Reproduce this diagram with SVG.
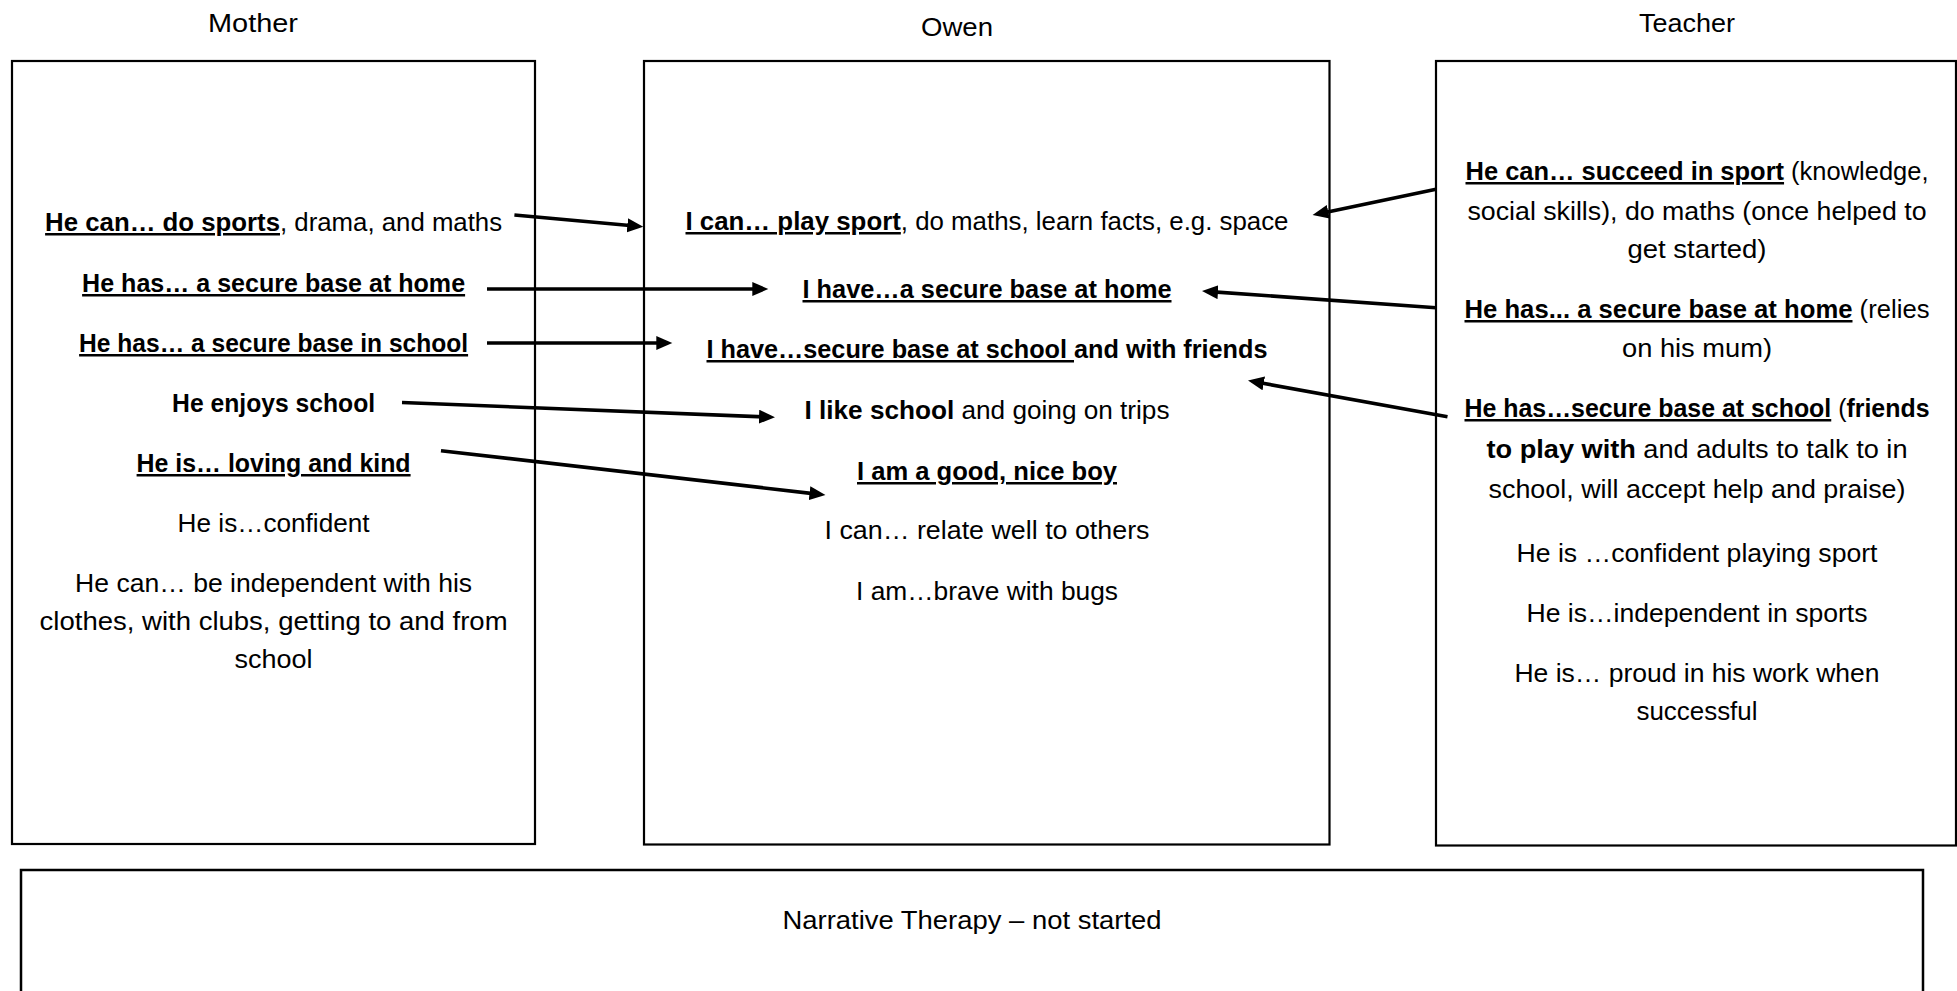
<svg xmlns="http://www.w3.org/2000/svg" width="1957" height="991" viewBox="0 0 1957 991">
<style>
text{font-family:"Liberation Sans",Arial,sans-serif;font-size:25px;fill:#000;text-anchor:middle}
.b{font-weight:bold}
.u{text-decoration:underline}
.box{fill:#fff;stroke:#000;stroke-width:2.2}
.arr{stroke:#000;stroke-width:3.6;fill:none;marker-end:url(#ah)}
</style>
<defs>
<marker id="ah" markerUnits="userSpaceOnUse" markerWidth="17" markerHeight="15" refX="8" refY="7" orient="auto">
<path d="M0,0 L16,7 L0,14 z" fill="#000"/>
</marker>
</defs>
<rect width="1957" height="991" fill="#fff"/>

<g id="mother">
<text x="253" y="32" textLength="90" lengthAdjust="spacingAndGlyphs">Mother</text>
<rect class="box" x="12" y="61" width="523" height="783"/>
<text x="273.6" y="231" textLength="457" lengthAdjust="spacingAndGlyphs"><tspan class="b u">He can… do sports</tspan>, drama, and maths</text>
<text x="273.6" y="292" textLength="383" lengthAdjust="spacingAndGlyphs" class="b u">He has… a secure base at home</text>
<text x="273.6" y="352" textLength="389" lengthAdjust="spacingAndGlyphs" class="b u">He has… a secure base in school</text>
<text x="273.6" y="412" textLength="203" lengthAdjust="spacingAndGlyphs" class="b">He enjoys school</text>
<text x="273.6" y="472" textLength="274" lengthAdjust="spacingAndGlyphs" class="b u">He is… loving and kind</text>
<text x="273.6" y="532" textLength="192" lengthAdjust="spacingAndGlyphs">He is…confident</text>
<text x="273.6" y="592" textLength="397" lengthAdjust="spacingAndGlyphs">He can… be independent with his</text>
<text x="273.6" y="630" textLength="468" lengthAdjust="spacingAndGlyphs">clothes, with clubs, getting to and from</text>
<text x="273.6" y="668" textLength="78" lengthAdjust="spacingAndGlyphs">school</text>
</g>

<g id="owen">
<text x="957" y="36" textLength="72" lengthAdjust="spacingAndGlyphs">Owen</text>
<rect class="box" x="644" y="61" width="685.5" height="783.5"/>
<text x="987" y="230" textLength="603" lengthAdjust="spacingAndGlyphs"><tspan class="b u">I can… play sport</tspan>, do maths, learn facts, e.g. space</text>
<text x="987" y="298" textLength="369" lengthAdjust="spacingAndGlyphs" class="b u">I have…a secure base at home</text>
<text x="987" y="358" textLength="561" lengthAdjust="spacingAndGlyphs" class="b"><tspan class="u">I have…secure base at school </tspan>and with friends</text>
<text x="987" y="419" textLength="365" lengthAdjust="spacingAndGlyphs"><tspan class="b">I like school</tspan> and going on trips</text>
<text x="987" y="480" textLength="260" lengthAdjust="spacingAndGlyphs" class="b u">I am a good, nice boy</text>
<text x="987" y="539" textLength="325" lengthAdjust="spacingAndGlyphs">I can… relate well to others</text>
<text x="987" y="600" textLength="262" lengthAdjust="spacingAndGlyphs">I am…brave with bugs</text>
</g>

<g id="teacher">
<text x="1687" y="32" textLength="96" lengthAdjust="spacingAndGlyphs">Teacher</text>
<rect class="box" x="1436" y="61" width="520" height="784.5"/>
<text x="1697" y="180" textLength="463" lengthAdjust="spacingAndGlyphs"><tspan class="b u">He can… succeed in sport</tspan> (knowledge,</text>
<text x="1697" y="220" textLength="459" lengthAdjust="spacingAndGlyphs">social skills), do maths (once helped to</text>
<text x="1697" y="258" textLength="139" lengthAdjust="spacingAndGlyphs">get started)</text>
<text x="1697" y="318" textLength="465" lengthAdjust="spacingAndGlyphs"><tspan class="b u">He has... a secure base at home</tspan> (relies</text>
<text x="1697" y="357" textLength="150" lengthAdjust="spacingAndGlyphs">on his mum)</text>
<text x="1697" y="417" textLength="465" lengthAdjust="spacingAndGlyphs"><tspan class="b u">He has…secure base at school</tspan> (<tspan class="b">friends</tspan></text>
<text x="1697" y="458" textLength="421" lengthAdjust="spacingAndGlyphs"><tspan class="b">to play with</tspan> and adults to talk to in</text>
<text x="1697" y="498" textLength="417" lengthAdjust="spacingAndGlyphs">school, will accept help and praise)</text>
<text x="1697" y="562" textLength="361" lengthAdjust="spacingAndGlyphs">He is …confident playing sport</text>
<text x="1697" y="622" textLength="341" lengthAdjust="spacingAndGlyphs">He is…independent in sports</text>
<text x="1697" y="682" textLength="365" lengthAdjust="spacingAndGlyphs">He is… proud in his work when</text>
<text x="1697" y="720" textLength="121" lengthAdjust="spacingAndGlyphs">successful</text>
</g>

<g id="narrative">
<path d="M21,1000 V870 H1923 V1000" fill="none" stroke="#000" stroke-width="2.5"/>
<text x="972" y="929" textLength="379" lengthAdjust="spacingAndGlyphs">Narrative Therapy – not started</text>
</g>

<g id="connectors">
<line class="arr" x1="514.4" y1="215" x2="635.3" y2="226"/>
<line class="arr" x1="487" y1="289" x2="760.3" y2="289"/>
<line class="arr" x1="487" y1="343" x2="664.3" y2="343"/>
<line class="arr" x1="402" y1="402.5" x2="767" y2="417"/>
<line class="arr" x1="441" y1="450.7" x2="817.5" y2="494.1"/>
<line class="arr" x1="1436" y1="189.3" x2="1320.4" y2="213.4"/>
<line class="arr" x1="1436" y1="307.7" x2="1210" y2="291.6"/>
<line class="arr" x1="1447.5" y1="416.7" x2="1255.9" y2="382"/>
</g>
</svg>
